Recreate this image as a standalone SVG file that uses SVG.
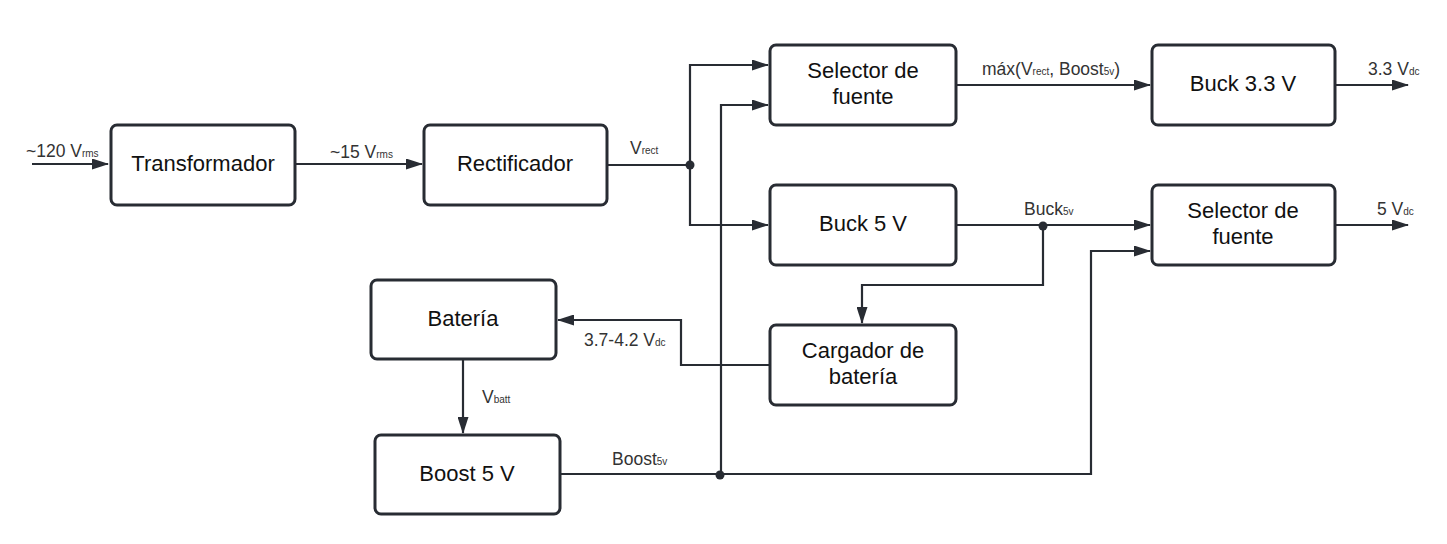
<svg xmlns="http://www.w3.org/2000/svg" width="1447" height="544" viewBox="0 0 1447 544">
<style>
.box{fill:#fff;stroke:#282c33;stroke-width:3}
.bt{font-family:"Liberation Sans",Arial,sans-serif;font-size:22px;fill:#111;text-anchor:middle}
.lbl{font-family:"Liberation Sans",Arial,sans-serif;font-size:17.5px;fill:#333}
.sub{font-size:10px}
.wire{fill:none;stroke:#282c33;stroke-width:2.2}
.dot{fill:#282c33}
</style>
<defs>
<marker id="arr" markerUnits="userSpaceOnUse" markerWidth="17" markerHeight="11" refX="16" refY="5.5" orient="auto">
<path d="M0,0 L17,5.5 L0,11 z" fill="#282c33"/>
</marker>
</defs>
<rect width="1447" height="544" fill="#fff"/>
<g id="connectors">
<path class="wire" d="M32,164 H108" marker-end="url(#arr)"/>
<path class="wire" d="M296,164 H422" marker-end="url(#arr)"/>
<path class="wire" d="M607,165 H690"/>
<path class="wire" d="M690,165 V65 H768" marker-end="url(#arr)"/>
<path class="wire" d="M690,165 V225 H768" marker-end="url(#arr)"/>
<path class="wire" d="M560,474 H1091 V251 H1150" marker-end="url(#arr)"/>
<path class="wire" d="M721,474 V105 H768" marker-end="url(#arr)"/>
<path class="wire" d="M956,85 H1150" marker-end="url(#arr)"/>
<path class="wire" d="M1335,85 H1408" marker-end="url(#arr)"/>
<path class="wire" d="M956,225 H1150" marker-end="url(#arr)"/>
<path class="wire" d="M1335,225 H1408" marker-end="url(#arr)"/>
<path class="wire" d="M1043,225 V285 H862 V323" marker-end="url(#arr)"/>
<path class="wire" d="M770,365 H681 V320 H558" marker-end="url(#arr)"/>
<path class="wire" d="M463,359 V433" marker-end="url(#arr)"/>
<circle class="dot" cx="690" cy="165" r="4.5"/>
<circle class="dot" cx="1043" cy="226" r="4.5"/>
<circle class="dot" cx="720" cy="475" r="4.5"/>
<text class="lbl" x="26" y="157">~120 V<tspan class="sub">rms</tspan></text>
<text class="lbl" x="330" y="158">~15 V<tspan class="sub">rms</tspan></text>
<text class="lbl" x="630" y="154">V<tspan class="sub">rect</tspan></text>
<text class="lbl" x="982" y="75">máx(V<tspan class="sub">rect</tspan>, Boost<tspan class="sub">5v</tspan>)</text>
<text class="lbl" x="1368" y="75">3.3 V<tspan class="sub">dc</tspan></text>
<text class="lbl" x="1377" y="215">5 V<tspan class="sub">dc</tspan></text>
<text class="lbl" x="1024" y="215">Buck<tspan class="sub">5v</tspan></text>
<text class="lbl" x="584" y="346">3.7-4.2 V<tspan class="sub">dc</tspan></text>
<text class="lbl" x="482" y="403">V<tspan class="sub">batt</tspan></text>
<text class="lbl" x="612" y="465">Boost<tspan class="sub">5v</tspan></text>
</g>
<g id="transformador">
<rect class="box" x="111" y="125" width="184" height="80" rx="6"/>
<text class="bt" x="203" y="171">Transformador</text>
</g>
<g id="rectificador">
<rect class="box" x="424" y="125" width="183" height="80" rx="6"/>
<text class="bt" x="515" y="171">Rectificador</text>
</g>
<g id="selector-top">
<rect class="box" x="770" y="45" width="186" height="80" rx="6"/>
<text class="bt" x="863" y="78">Selector de</text>
<text class="bt" x="863" y="104">fuente</text>
</g>
<g id="buck33">
<rect class="box" x="1152" y="45" width="183" height="80" rx="6"/>
<text class="bt" x="1243" y="91">Buck 3.3 V</text>
</g>
<g id="buck5">
<rect class="box" x="770" y="185" width="186" height="80" rx="6"/>
<text class="bt" x="863" y="231">Buck 5 V</text>
</g>
<g id="selector-right">
<rect class="box" x="1152" y="185" width="183" height="80" rx="6"/>
<text class="bt" x="1243" y="218">Selector de</text>
<text class="bt" x="1243" y="244">fuente</text>
</g>
<g id="bateria">
<rect class="box" x="371" y="280" width="185" height="79" rx="6"/>
<text class="bt" x="463" y="326">Batería</text>
</g>
<g id="cargador">
<rect class="box" x="770" y="325" width="186" height="80" rx="6"/>
<text class="bt" x="863" y="358">Cargador de</text>
<text class="bt" x="863" y="384">batería</text>
</g>
<g id="boost5">
<rect class="box" x="375" y="435" width="185" height="79" rx="6"/>
<text class="bt" x="467" y="481">Boost 5 V</text>
</g>
</svg>
